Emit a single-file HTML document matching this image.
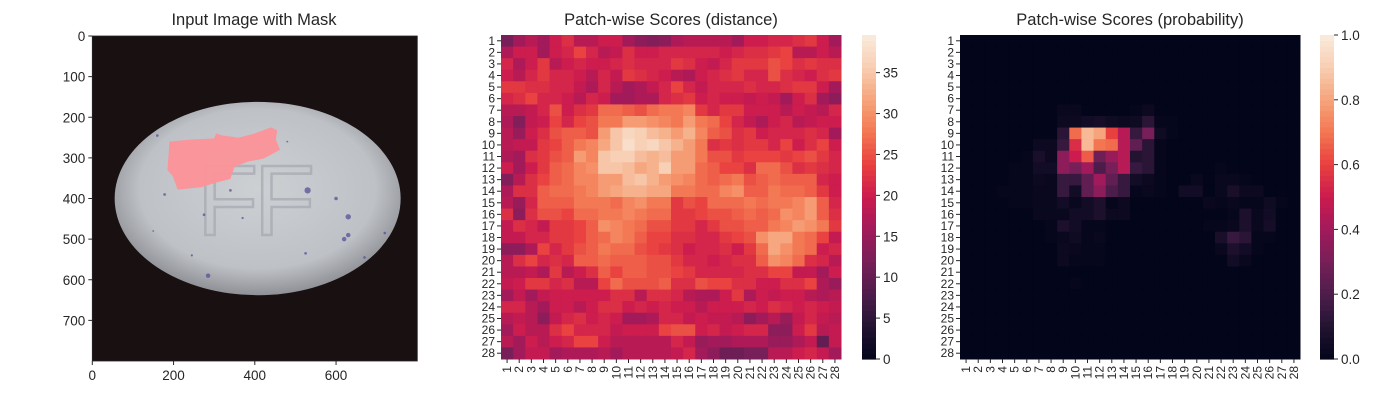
<!DOCTYPE html>
<html><head><meta charset="utf-8"><style>
body{margin:0;background:#fff;width:1400px;height:400px;overflow:hidden}
svg{display:block}
text{font-family:"Liberation Sans",Arial,sans-serif;fill:#262626}
</style></head><body>
<svg id="c" width="1400" height="400">
<defs>
<radialGradient id="egg" cx="50%" cy="45%" r="55%">
<stop offset="0" stop-color="#cdd0d3"/><stop offset="0.75" stop-color="#bec1c6"/><stop offset="1" stop-color="#8f9197"/>
</radialGradient>
</defs>
<g id="p1"></g>
<g id="p2"></g>
<g id="p3"></g>
</svg>
<script>
const ns="http://www.w3.org/2000/svg";
// ---- data ----
const rowLabels=[];for(let i=1;i<=28;i++)rowLabels.push(String(i));
const colLabels=rowLabels.slice();
const imgTicks=[0,100,200,300,400,500,600,700];
const imgXTicks=[0,200,400,600];
const distTicks=[0,5,10,15,20,25,30,35];
const probTicks=[0,0.2,0.4,0.6,0.8,1.0];
const distMax=39.6;
const eggCenter=[407,400];const eggRadii=[352,238];
const maskPoly=[[190,260],[240,255],[300,252],[305,240],[320,245],[360,250],[400,240],[440,225],[455,232],[452,255],[462,280],[440,292],[420,302],[380,310],[350,322],[340,352],[300,362],[270,372],[210,378],[198,345],[185,330],[188,290]];
const spots=[[530,380,7],[600,400,4],[630,445,6],[620,500,5],[630,490,5],[285,590,5],[525,535,3],[370,448,2.5],[275,440,3],[178,390,3],[340,380,3],[720,485,3],[245,540,2.5],[670,545,3],[160,245,3],[150,480,2],[480,260,2]];
const distance=[
[12,16,18,16,20,22,18,18,20,20,16,14,13,14,17,18,18,18,18,16,20,20,21,21,22,23,20,16],
[17,20,20,16,20,21,24,21,18,19,22,20,20,21,21,21,21,21,20,21,22,22,23,24,18,18,20,18],
[21,17,20,23,18,20,21,20,20,21,22,21,21,21,23,22,20,19,21,23,23,23,25,24,22,23,22,22],
[20,18,21,23,21,21,20,18,21,19,23,22,21,20,18,17,20,21,22,23,21,21,25,22,21,20,22,23],
[23,23,22,22,21,21,19,17,21,18,16,17,19,21,24,21,19,21,21,21,22,21,21,22,23,23,20,16],
[21,22,24,21,21,20,18,21,20,16,16,17,17,21,22,23,20,21,20,20,19,20,19,16,20,22,16,14],
[18,18,19,21,25,20,22,23,27,27,26,25,27,28,28,29,23,21,23,23,20,20,20,18,20,19,18,21],
[17,13,19,20,24,21,24,25,28,28,31,31,30,29,28,31,28,27,24,21,19,17,20,21,18,19,20,20],
[18,15,20,22,25,26,26,25,31,35,37,36,34,33,31,33,29,26,25,22,23,20,21,21,21,22,21,16],
[18,19,19,23,24,26,28,29,32,35,38,36,37,35,33,31,28,22,23,22,23,23,21,24,20,22,24,20],
[17,16,22,23,25,26,31,29,35,36,36,34,33,34,31,31,28,25,25,23,24,24,24,23,24,25,23,21],
[20,16,20,23,26,27,29,30,35,35,34,32,33,36,31,31,27,26,24,24,22,27,27,25,22,23,22,21],
[13,18,22,24,26,27,29,29,31,31,34,35,33,31,30,29,27,26,27,28,25,26,27,26,26,26,21,20],
[17,22,22,26,27,27,28,29,31,32,33,33,32,32,28,28,27,27,29,30,26,26,28,27,27,26,23,20],
[18,15,21,26,26,26,28,28,28,27,29,30,28,28,23,25,24,27,27,27,28,27,28,28,29,31,26,21],
[22,14,22,25,25,24,27,27,28,28,29,28,27,27,23,23,24,25,25,26,27,26,27,30,29,31,26,22],
[19,22,21,19,23,23,24,26,30,29,28,27,25,25,23,23,21,23,25,25,26,26,28,29,31,30,28,23],
[19,19,21,21,23,23,24,26,27,29,28,26,24,24,22,22,21,21,23,24,25,30,32,32,28,27,24,19],
[14,14,17,24,21,23,25,26,28,27,27,25,24,23,22,20,21,21,22,20,23,27,32,30,28,27,20,21],
[18,22,24,21,22,21,26,26,27,26,26,26,25,25,23,21,21,20,21,22,22,26,30,29,27,22,21,18],
[18,18,19,17,23,18,20,22,26,24,26,26,25,25,24,23,21,21,21,21,22,22,24,24,19,19,16,20],
[19,20,23,23,21,22,18,18,24,27,25,25,25,26,22,22,25,24,24,22,22,20,20,22,22,24,17,15],
[16,19,16,19,20,20,20,20,20,22,22,18,22,22,21,18,17,17,20,23,17,20,19,20,20,18,17,18],
[21,21,18,16,20,20,18,20,22,22,20,21,20,21,20,20,18,20,20,20,21,20,22,21,20,21,20,19],
[18,19,18,14,19,21,22,20,21,20,16,16,17,21,21,19,20,19,19,18,14,16,18,15,19,21,19,18],
[16,20,18,18,22,24,21,21,21,19,20,20,20,24,25,25,20,21,19,20,21,21,14,14,20,23,18,19],
[18,16,20,18,20,21,24,24,20,18,18,18,18,18,21,19,15,16,16,17,17,17,15,15,17,19,10,19],
[12,16,19,19,16,17,17,17,18,16,18,18,18,18,19,21,16,14,11,11,12,12,18,18,20,21,19,16]];
const probability=[
[0,0,0,0,0,0,0,0,0,0,0,0,0,0,0,0,0,0,0,0,0,0,0,0,0,0,0,0],
[0,0,0,0,0,0,0,0,0,0,0,0,0,0,0,0,0,0,0,0,0,0,0,0,0,0,0,0],
[0,0,0,0,0,0,0,0,0,0,0,0,0,0,0,0,0,0,0,0,0,0,0,0,0,0,0,0],
[0,0,0,0,0,0,0,0,0,0,0,0,0,0,0,0,0,0,0,0,0,0,0,0,0,0,0,0],
[0,0,0,0,0,0,0,0,0,0,0,0,0,0,0,0,0,0,0,0,0,0,0,0,0,0,0,0],
[0,0,0,0,0,0,0,0,0,0,0,0,0,0,0,0,0,0,0,0,0,0,0,0,0,0,0,0],
[0,0,0,0,0,0,0,0,0.02,0.02,0,0,0,0,0.01,0.03,0,0,0,0,0,0,0,0,0,0,0,0],
[0,0,0,0,0,0,0,0,0.03,0.03,0.05,0.06,0.04,0.03,0.04,0.12,0.01,0.01,0,0,0,0,0,0,0,0,0,0],
[0,0,0,0,0,0,0,0,0.12,0.68,0.85,0.8,0.6,0.45,0.15,0.3,0.04,0.01,0,0,0,0,0,0,0,0,0,0],
[0,0,0,0,0,0,0.03,0.03,0.15,0.55,0.85,0.7,0.68,0.45,0.25,0.12,0.01,0,0,0,0,0,0,0,0,0,0,0],
[0,0,0,0,0,0.01,0.07,0.03,0.35,0.5,0.65,0.28,0.38,0.45,0.1,0.12,0.01,0,0,0,0,0,0,0,0,0,0,0],
[0,0,0,0,0.01,0.01,0.05,0.05,0.35,0.3,0.4,0.2,0.3,0.45,0.15,0.12,0.01,0,0,0,0,0.01,0,0,0,0,0,0],
[0,0,0,0,0.01,0.01,0.03,0.02,0.15,0.15,0.25,0.4,0.25,0.15,0.05,0.03,0.01,0,0,0.02,0,0.02,0.02,0.01,0,0,0,0],
[0,0,0,0.01,0.01,0.01,0.02,0.02,0.15,0.05,0.25,0.35,0.2,0.15,0.01,0.02,0.01,0,0.05,0.05,0,0.02,0.07,0.03,0.03,0,0,0],
[0,0,0,0,0.01,0.01,0.02,0.02,0.05,0.02,0.05,0.08,0.01,0.03,0,0,0,0,0,0,0.02,0.01,0.02,0.01,0.01,0.04,0.01,0],
[0,0,0,0,0,0,0.02,0.02,0.02,0.05,0.05,0.08,0.03,0.03,0,0,0,0,0,0,0,0,0.01,0.08,0.02,0.05,0,0],
[0,0,0,0,0,0,0,0.01,0.08,0.05,0.01,0.01,0,0,0,0,0,0,0,0,0.01,0.01,0.02,0.08,0.02,0.06,0,0],
[0,0,0,0,0,0,0,0.01,0.02,0.04,0.01,0.02,0,0,0,0,0,0,0,0,0,0.07,0.15,0.12,0.01,0.01,0,0],
[0,0,0,0,0,0,0,0,0.03,0.02,0.01,0.01,0,0,0,0,0,0,0,0,0,0.02,0.08,0.05,0.01,0,0,0],
[0,0,0,0,0,0,0,0,0.03,0.01,0.01,0.01,0,0,0,0,0,0,0,0,0,0,0.05,0.02,0,0,0,0],
[0,0,0,0,0,0,0,0,0,0,0,0,0,0,0,0,0,0,0,0,0,0,0,0,0,0,0,0],
[0,0,0,0,0,0,0,0,0,0.01,0,0,0,0,0,0,0,0,0,0,0,0,0,0,0,0,0,0],
[0,0,0,0,0,0,0,0,0,0,0,0,0,0,0,0,0,0,0,0,0,0,0,0,0,0,0,0],
[0,0,0,0,0,0,0,0,0,0,0,0,0,0,0,0,0,0,0,0,0,0,0,0,0,0,0,0],
[0,0,0,0,0,0,0,0,0,0,0,0,0,0,0,0,0,0,0,0,0,0,0,0,0,0,0,0],
[0,0,0,0,0,0,0,0,0,0,0,0,0,0,0,0,0,0,0,0,0,0,0,0,0,0,0,0],
[0,0,0,0,0,0,0,0,0,0,0,0,0,0,0,0,0,0,0,0,0,0,0,0,0,0,0,0],
[0,0,0,0,0,0,0,0,0,0,0,0,0,0,0,0,0,0,0,0,0,0,0,0,0,0,0,0]];

// ---- helpers ----
function mk(tag,attrs,parent){const e=document.createElementNS(ns,tag);for(const k in attrs)e.setAttribute(k,attrs[k]);parent.appendChild(e);return e;}
const rocketStops=[[3,5,26],[34,19,49],[76,29,75],[118,31,88],[161,26,91],[203,27,79],[232,63,63],[243,118,81],[246,164,123],[247,205,177],[250,235,221]];
function rocket(t){t=Math.max(0,Math.min(1,t));const p=t*10,i=Math.min(9,Math.floor(p)),f=p-i,a=rocketStops[i],b=rocketStops[i+1];
return `rgb(${Math.round(a[0]+(b[0]-a[0])*f)},${Math.round(a[1]+(b[1]-a[1])*f)},${Math.round(a[2]+(b[2]-a[2])*f)})`;}
function txt(parent,x,y,s,opts){const t=mk('text',Object.assign({x:x,y:y,'font-size':13.5},opts||{}),parent);t.textContent=s;return t;}

// ---- panel 1: image ----
const p1=document.getElementById('p1');
const ix0=92.3,iy0=36,isc=325/800;
const ixs=v=>ix0+v*isc, iys=v=>iy0+v*isc;
const bg=mk('rect',{x:ix0,y:iy0,width:800*isc,height:800*isc,fill:'#181011'},p1);


const egg=mk('ellipse',{cx:ixs(eggCenter[0]),cy:iys(eggCenter[1]),rx:eggRadii[0]*isc,ry:eggRadii[1]*isc,fill:'url(#egg)'},p1);


const ff=txt(p1,ixs(258),iys(490),'FF',{'font-size':100,'textLength':118,fill:'none',stroke:'#a9adb4','stroke-width':2.5,style:'fill:none',opacity:0.8});


spots.forEach(s=>{const d=mk('circle',{cx:ixs(s[0]),cy:iys(s[1]),r:s[2]*isc*1.1,fill:'#55509a',opacity:0.75},p1);

});
const mask=mk('polygon',{points:maskPoly.map(p=>ixs(p[0])+','+iys(p[1])).join(' '),fill:'#fb9499',opacity:0.97},p1);


mk('rect',{x:ix0,y:iy0,width:800*isc,height:800*isc,fill:'none',stroke:'#262626','stroke-width':0.8},p1);
imgTicks.forEach(v=>{mk('line',{x1:ix0,x2:ix0-4,y1:iys(v),y2:iys(v),stroke:'#262626'},p1);
const t=txt(p1,ix0-7,iys(v)+5,String(v),{'text-anchor':'end'});

});
imgXTicks.forEach(v=>{mk('line',{x1:ixs(v),x2:ixs(v),y1:iy0+325,y2:iy0+329,stroke:'#262626'},p1);
const t=txt(p1,ixs(v),iy0+344,String(v),{'text-anchor':'middle'});

});
const t1=txt(p1,254,25,'Input Image with Mask',{'text-anchor':'middle','font-size':16.5});



// ---- heatmaps ----
function heatmap(g,x0,data,vmax,ticks,title,cbx,fmt){
const y0=35,W=340,H=324,cw=W/28,ch=H/28;
data.forEach((row,r)=>row.forEach((v,c)=>{const cell=mk('rect',{x:x0+c*cw,y:y0+r*ch,width:cw+0.5,height:ch+0.5,fill:rocket(v/vmax)},g);

}));
rowLabels.forEach((s,i)=>{const y=y0+(i+0.5)*ch;mk('line',{x1:x0,x2:x0-4,y1:y,y2:y,stroke:'#262626'},g);
const t=txt(g,x0-6,y+4,s,{'text-anchor':'end','font-size':12});

});
colLabels.forEach((s,i)=>{const x=x0+(i+0.5)*cw;mk('line',{x1:x,x2:x,y1:y0+H,y2:y0+H+4,stroke:'#262626'},g);
const t=txt(g,0,0,s,{'text-anchor':'end','font-size':12,transform:`translate(${x+4},${y0+H+7}) rotate(-90)`});

});
const N=60;for(let i=0;i<N;i++){const seg=mk('rect',{x:cbx,y:y0+H-(i+1)*H/N,width:14,height:H/N+0.6,fill:rocket((i+0.5)/N)},g);

}
ticks.forEach(v=>{const y=y0+H-v/vmax*H;mk('line',{x1:cbx+14,x2:cbx+18,y1:y,y2:y,stroke:'#262626'},g);
const t=txt(g,cbx+21,y+5,fmt(v),{'font-size':13.5});

});
const tt=txt(g,x0+W/2,25,title,{'text-anchor':'middle','font-size':16.5});

}
heatmap(document.getElementById('p2'),501,distance,distMax,distTicks,'Patch-wise Scores (distance)',862,v=>String(v));
heatmap(document.getElementById('p3'),960,probability,1,probTicks,'Patch-wise Scores (probability)',1320,v=>v.toFixed(1));
</script>
</body></html>
